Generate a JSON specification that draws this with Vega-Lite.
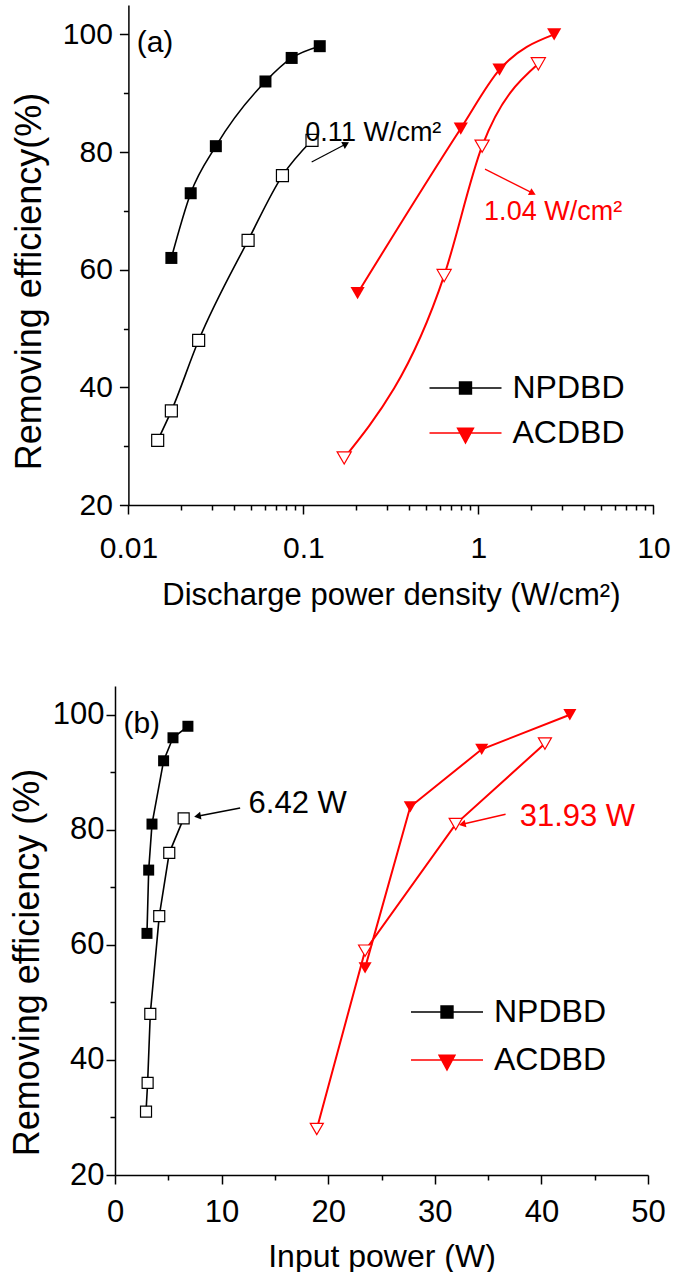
{
  "$schema": "https://vega.github.io/schema/vega-lite/v6.json",
  "background": "white",
  "padding": {"left": 9, "top": 5, "right": 5, "bottom": 0},
  "config": {
    "view": {"stroke": null},
    "font": "Liberation Sans, Arial",
    "axis": {
      "grid": false,
      "domainColor": "black",
      "domainWidth": 1.5,
      "tickColor": "black",
      "tickWidth": 1.5,
      "labelColor": "black",
      "titleColor": "black",
      "labelFont": "Liberation Sans, Arial",
      "titleFont": "Liberation Sans, Arial",
      "titleFontWeight": "normal",
      "labelFlush": false,
      "labelOverlap": false,
      "labelBound": false
    }
  },
  "datasets": {
    "a_pts": [
      {"series": "NPDBD", "filled": true, "x": 0.0176, "y": 62},
      {"series": "NPDBD", "filled": true, "x": 0.0227, "y": 73},
      {"series": "NPDBD", "filled": true, "x": 0.0316, "y": 81},
      {"series": "NPDBD", "filled": true, "x": 0.0607, "y": 92},
      {"series": "NPDBD", "filled": true, "x": 0.0857, "y": 96},
      {"series": "NPDBD", "filled": true, "x": 0.124, "y": 98},
      {"series": "NPDBD", "filled": false, "x": 0.0147, "y": 31},
      {"series": "NPDBD", "filled": false, "x": 0.0176, "y": 36},
      {"series": "NPDBD", "filled": false, "x": 0.0252, "y": 48},
      {"series": "NPDBD", "filled": false, "x": 0.0483, "y": 65},
      {"series": "NPDBD", "filled": false, "x": 0.0759, "y": 76},
      {"series": "NPDBD", "filled": false, "x": 0.112, "y": 82},
      {"series": "ACDBD", "filled": true, "x": 0.204, "y": 56},
      {"series": "ACDBD", "filled": true, "x": 0.793, "y": 84},
      {"series": "ACDBD", "filled": true, "x": 1.32, "y": 94},
      {"series": "ACDBD", "filled": true, "x": 2.71, "y": 100},
      {"series": "ACDBD", "filled": false, "x": 0.171, "y": 28},
      {"series": "ACDBD", "filled": false, "x": 0.637, "y": 59},
      {"series": "ACDBD", "filled": false, "x": 1.05, "y": 81},
      {"series": "ACDBD", "filled": false, "x": 2.2, "y": 95}
    ],
    "b_pts": [
      {"series": "NPDBD", "filled": true, "x": 3.0, "y": 62},
      {"series": "NPDBD", "filled": true, "x": 3.16, "y": 73},
      {"series": "NPDBD", "filled": true, "x": 3.47, "y": 81},
      {"series": "NPDBD", "filled": true, "x": 4.56, "y": 92},
      {"series": "NPDBD", "filled": true, "x": 5.44, "y": 96},
      {"series": "NPDBD", "filled": true, "x": 6.84, "y": 98},
      {"series": "NPDBD", "filled": false, "x": 2.91, "y": 31},
      {"series": "NPDBD", "filled": false, "x": 3.06, "y": 36},
      {"series": "NPDBD", "filled": false, "x": 3.31, "y": 48},
      {"series": "NPDBD", "filled": false, "x": 4.15, "y": 65},
      {"series": "NPDBD", "filled": false, "x": 5.09, "y": 76},
      {"series": "NPDBD", "filled": false, "x": 6.44, "y": 82},
      {"series": "ACDBD", "filled": true, "x": 23.46, "y": 56},
      {"series": "ACDBD", "filled": true, "x": 27.7, "y": 84},
      {"series": "ACDBD", "filled": true, "x": 34.4, "y": 94},
      {"series": "ACDBD", "filled": true, "x": 42.67, "y": 100},
      {"series": "ACDBD", "filled": false, "x": 18.93, "y": 28},
      {"series": "ACDBD", "filled": false, "x": 23.46, "y": 59},
      {"series": "ACDBD", "filled": false, "x": 31.96, "y": 81},
      {"series": "ACDBD", "filled": false, "x": 40.33, "y": 95}
    ],
    "a_arrows": [
      {"series": "NPDBD", "x": 0.1729, "y": 81.3, "x0": 0.1115, "y0": 78.3},
      {"series": "ACDBD", "x": 2.016, "y": 73.1, "x0": 1.091, "y0": 77.1}
    ],
    "b_arrows": [
      {"series": "NPDBD", "x": 7.84, "y": 82.4, "x0": 11.74, "y0": 83.8},
      {"series": "ACDBD", "x": 32.68, "y": 81.0, "x0": 36.64, "y0": 82.7}
    ],
    "a_notes": [
      {"series": "NPDBD", "label": "0.11 W/cm²", "x": 0.1026, "y": 81.9},
      {"series": "ACDBD", "label": "1.04 W/cm²", "x": 1.078, "y": 68.5}
    ],
    "b_notes": [
      {"series": "NPDBD", "label": "6.42 W", "x": 12.53, "y": 83.0},
      {"series": "ACDBD", "label": "31.93 W", "x": 37.96, "y": 80.6}
    ]
  },
  "spacing": 76,
  "resolve": {
    "scale": {"color": "independent"},
    "legend": {"color": "independent"}
  },
  "vconcat": [
    {
      "width": 538.4,
      "height": 500,
      "encoding": {
        "x": {
          "field": "x", "type": "quantitative",
          "scale": {"type": "log", "domain": [0.01, 10], "range": [13.4, 538.4]},
          "axis": {
            "title": "Discharge power density (W/cm²)",
            "titleFontSize": 31,
            "titlePadding": 17,
            "values": [0.01,0.02,0.03,0.04,0.05,0.06,0.07,0.08,0.09,0.1,0.2,0.3,0.4,0.5,0.6,0.7,0.8,0.9,1,2,3,4,5,6,7,8,9,10],
            "labelExpr": "abs(log(datum.value)/LN10 - round(log(datum.value)/LN10)) < 1e-6 ? format(datum.value, '~g') : ''",
            "tickSize": {"condition": {"test": "abs(log(datum.value)/LN10 - round(log(datum.value)/LN10)) < 1e-6", "value": 9}, "value": 5},
            "labelFontSize": 30,
            "labelPadding": 19
          }
        },
        "y": {
          "field": "y", "type": "quantitative",
          "scale": {"domain": [20, 105], "nice": false, "zero": false},
          "axis": {
            "title": "Removing efficiency(%)",
            "titleFontSize": 36,
            "titlePadding": 14,
            "titleY": 276,
            "offset": -13.4,
            "values": [20,30,40,50,60,70,80,90,100],
            "labelExpr": "datum.value % 20 === 0 ? datum.label : ''",
            "tickSize": {"condition": {"test": "datum.value % 20 === 0", "value": 9}, "value": 5},
            "labelFontSize": 30,
            "labelPadding": 7
          }
        }
      },
      "layer": [
        {
          "data": {"name": "a_pts"},
          "mark": {"type": "line", "interpolate": "monotone"},
          "encoding": {
            "color": {
              "field": "series", "type": "nominal",
              "scale": {"domain": ["NPDBD", "ACDBD"], "range": ["#000000", "#ff0000"]},
              "legend": {
                "title": null,
                "orient": "none",
                "legendX": 331.5,
                "legendY": 364,
                "padding": 0,
                "symbolSize": 1296,
                "labelFont": "Liberation Sans, Arial",
                "labelFontSize": 32,
                "labelColor": "black",
                "labelOffset": 28,
                "rowPadding": 10,
                "encode": {
                  "symbols": {
                    "update": {
                      "shape": {"signal": "datum.value === 'NPDBD' ? 'M-2,0H2M-0.33,-0.33H0.33V0.33H-0.33Z' : 'M-2,0H2M-0.44,-0.26H0.44L0,0.55Z'"},
                      "fill": {"signal": "datum.value === 'NPDBD' ? '#000000' : '#ff0000'"},
                      "stroke": {"signal": "datum.value === 'NPDBD' ? '#000000' : '#ff0000'"},
                      "strokeWidth": {"value": 1.5},
                      "fillOpacity": {"value": 1},
                      "opacity": {"value": 1}
                    }
                  }
                }
              }
            },
            "detail": {"field": "filled", "type": "nominal"},
            "strokeWidth": {"condition": {"test": "datum.series === 'ACDBD'", "value": 2}, "value": 1.6}
          }
        },
        {
          "data": {"name": "a_arrows"},
          "mark": {"type": "rule", "strokeWidth": 1.2},
          "encoding": {
            "x2": {"field": "x0"},
            "y2": {"field": "y0"},
            "color": {"field": "series", "type": "nominal"}
          }
        },
        {
          "data": {"name": "a_arrows"},
          "mark": {"type": "point", "shape": "triangle", "filled": true, "size": 60, "opacity": 1},
          "encoding": {
            "color": {"field": "series", "type": "nominal"},
            "angle": {"condition": {"test": "datum.series === 'NPDBD'", "value": 62}, "value": 116.5}
          }
        },
        {
          "data": {"name": "a_pts"},
          "transform": [{"filter": "!datum.filled"}],
          "mark": {"type": "point", "filled": false, "fill": "white", "fillOpacity": 1, "strokeWidth": 1.2, "opacity": 1},
          "encoding": {
            "color": {"field": "series", "type": "nominal"},
            "shape": {"condition": {"test": "datum.series === 'ACDBD'", "value": "triangle-down"}, "value": "square"},
            "size": {"condition": {"test": "datum.series === 'ACDBD'", "value": 200}, "value": 144}
          }
        },
        {
          "data": {"name": "a_pts"},
          "transform": [{"filter": "datum.filled"}],
          "mark": {"type": "point", "filled": true, "opacity": 1},
          "encoding": {
            "color": {"field": "series", "type": "nominal"},
            "shape": {"condition": {"test": "datum.series === 'ACDBD'", "value": "triangle-down"}, "value": "square"},
            "size": {"condition": {"test": "datum.series === 'ACDBD'", "value": 200}, "value": 144}
          }
        },
        {
          "data": {"name": "a_notes"},
          "mark": {"type": "text", "align": "left", "baseline": "alphabetic", "fontSize": 27},
          "encoding": {
            "text": {"field": "label"},
            "color": {"field": "series", "type": "nominal"}
          }
        },
        {
          "data": {"values": [{"label": "(a)", "x": 0.01115, "y": 97.0}]},
          "mark": {"type": "text", "align": "left", "baseline": "alphabetic", "fontSize": 30, "color": "black"},
          "encoding": {"text": {"field": "label"}}
        }
      ]
    },
    {
      "width": 533,
      "height": 489,
      "encoding": {
        "x": {
          "field": "x", "type": "quantitative",
          "scale": {"domain": [0, 50], "nice": false},
          "axis": {
            "title": "Input power (W)",
            "titleFontSize": 32,
            "titlePadding": 14,
            "values": [0,5,10,15,20,25,30,35,40,45,50],
            "labelExpr": "datum.value % 10 === 0 ? datum.label : ''",
            "tickSize": {"condition": {"test": "datum.value % 10 === 0", "value": 9}, "value": 5},
            "labelFontSize": 31,
            "labelPadding": 13
          }
        },
        "y": {
          "field": "y", "type": "quantitative",
          "scale": {"domain": [20, 105], "nice": false, "zero": false},
          "axis": {
            "title": "Removing efficiency (%)",
            "titleFontSize": 36,
            "titlePadding": 6,
            "titleY": 276,
            "values": [20,30,40,50,60,70,80,90,100],
            "labelExpr": "datum.value % 20 === 0 ? datum.label : ''",
            "tickSize": {"condition": {"test": "datum.value % 20 === 0", "value": 9}, "value": 5},
            "labelFontSize": 31,
            "labelPadding": 2
          }
        }
      },
      "layer": [
        {
          "data": {"name": "b_pts"},
          "mark": {"type": "line"},
          "encoding": {
            "color": {
              "field": "series", "type": "nominal",
              "scale": {"domain": ["NPDBD", "ACDBD"], "range": ["#000000", "#ff0000"]},
              "legend": {
                "title": null,
                "orient": "none",
                "legendX": 313,
                "legendY": 307,
                "padding": 0,
                "symbolSize": 1296,
                "labelFont": "Liberation Sans, Arial",
                "labelFontSize": 32,
                "labelColor": "black",
                "labelOffset": 28,
                "rowPadding": 13,
                "encode": {
                  "symbols": {
                    "update": {
                      "shape": {"signal": "datum.value === 'NPDBD' ? 'M-2,0H2M-0.33,-0.33H0.33V0.33H-0.33Z' : 'M-2,0H2M-0.44,-0.26H0.44L0,0.55Z'"},
                      "fill": {"signal": "datum.value === 'NPDBD' ? '#000000' : '#ff0000'"},
                      "stroke": {"signal": "datum.value === 'NPDBD' ? '#000000' : '#ff0000'"},
                      "strokeWidth": {"value": 1.5},
                      "fillOpacity": {"value": 1},
                      "opacity": {"value": 1}
                    }
                  }
                }
              }
            },
            "detail": {"field": "filled", "type": "nominal"},
            "strokeWidth": {"condition": {"test": "datum.series === 'ACDBD'", "value": 2}, "value": 1.6}
          }
        },
        {
          "data": {"name": "b_arrows"},
          "mark": {"type": "rule", "strokeWidth": 1.5},
          "encoding": {
            "x2": {"field": "x0"},
            "y2": {"field": "y0"},
            "color": {"field": "series", "type": "nominal"}
          }
        },
        {
          "data": {"name": "b_arrows"},
          "mark": {"type": "point", "shape": "triangle", "filled": true, "size": 60, "opacity": 1},
          "encoding": {
            "color": {"field": "series", "type": "nominal"},
            "angle": {"condition": {"test": "datum.series === 'NPDBD'", "value": 259.5}, "value": 257}
          }
        },
        {
          "data": {"name": "b_pts"},
          "transform": [{"filter": "!datum.filled"}],
          "mark": {"type": "point", "filled": false, "fill": "white", "fillOpacity": 1, "strokeWidth": 1.2, "opacity": 1},
          "encoding": {
            "color": {"field": "series", "type": "nominal"},
            "shape": {"condition": {"test": "datum.series === 'ACDBD'", "value": "triangle-down"}, "value": "square"},
            "size": {"condition": {"test": "datum.series === 'ACDBD'", "value": 170}, "value": 121}
          }
        },
        {
          "data": {"name": "b_pts"},
          "transform": [{"filter": "datum.filled"}],
          "mark": {"type": "point", "filled": true, "opacity": 1},
          "encoding": {
            "color": {"field": "series", "type": "nominal"},
            "shape": {"condition": {"test": "datum.series === 'ACDBD'", "value": "triangle-down"}, "value": "square"},
            "size": {"condition": {"test": "datum.series === 'ACDBD'", "value": 170}, "value": 121}
          }
        },
        {
          "data": {"name": "b_notes"},
          "mark": {"type": "text", "align": "left", "baseline": "alphabetic", "fontSize": 31},
          "encoding": {
            "text": {"field": "label"},
            "color": {"field": "series", "type": "nominal"}
          }
        },
        {
          "data": {"values": [{"label": "(b)", "x": 0.79, "y": 96.8}]},
          "mark": {"type": "text", "align": "left", "baseline": "alphabetic", "fontSize": 30, "color": "black"},
          "encoding": {"text": {"field": "label"}}
        }
      ]
    }
  ]
}
